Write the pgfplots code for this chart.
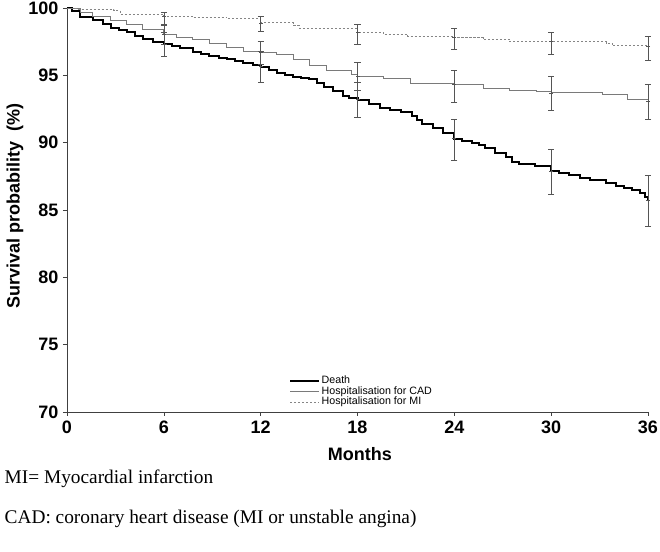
\documentclass[border=0pt]{standalone}
\usepackage{pgfplots}
\usepackage{pgfplotstable}
\pgfplotsset{compat=1.18}
\usepackage{fontspec}
\setmainfont{Liberation Sans}
\newfontfamily\footfont{Liberation Serif}
\usetikzlibrary{plotmarks}
\definecolor{cadgray}{HTML}{7A7A7A}
\definecolor{migray}{HTML}{858585}
\definecolor{errgray}{HTML}{555555}

\pgfplotstableread{
x y
0 100
0.3 99.8
0.8 99.3
1.6 99.1
2.2 98.8
2.7 98.55
3.2 98.4
3.7 98.2
4.2 97.95
4.7 97.7
5.3 97.5
6 97.3
6.5 97.15
7 97.0
7.8 96.7
8.3 96.55
8.8 96.4
9.4 96.3
9.9 96.2
10.4 96.05
10.9 95.9
11.5 95.8
12 95.65
12.5 95.4
13 95.2
13.5 95.05
14 94.9
14.5 94.8
15 94.7
15.5 94.4
15.9 94.1
16.5 93.8
17.1 93.5
17.5 93.35
18 93.2
18.7 92.9
19.4 92.6
20 92.45
20.7 92.25
21.4 92.0
21.7 91.7
22 91.4
22.7 91.1
23.3 90.75
24 90.3
24.5 90.15
25.1 90.0
25.5 89.8
25.9 89.6
26.5 89.25
27.2 88.9
27.6 88.6
28 88.4
29 88.25
30 87.9
30.5 87.75
31.1 87.6
31.8 87.4
32.4 87.25
33.4 87.0
34 86.8
34.5 86.6
35 86.45
35.5 86.25
35.8 86.0
36 85.75
}\deathtable

\pgfplotstableread{
x y
0 100
0.8 99.7
1.6 99.4
2.7 99.1
3.7 98.8
4.7 98.4
6 98.05
6.8 97.8
7.8 97.7
8.8 97.4
9.9 97.05
10.9 96.8
12 96.7
13 96.55
14 96.2
15 95.7
16.1 95.4
17.6 95.05
18 94.9
19.6 94.8
21.3 94.4
22.7 94.4
24 94.3
25.8 94.05
27.4 93.9
29.1 93.8
30 93.7
31 93.7
33.2 93.6
34.7 93.2
36 93.1
}\cadtable

\pgfplotstableread{
x y
0 100
0.6 99.9
2.9 99.8
3.3 99.55
6 99.4
7.8 99.3
9.9 99.2
12 98.9
14 98.7
14.4 98.5
18 98.2
19.6 98.05
21.1 97.9
24 97.8
25.8 97.7
27.4 97.5
30 97.5
33.4 97.4
33.8 97.2
36 97.15
}\mitable

\pgfplotstableread{
x y ep em
6 97.3 0.9 0.9
12 95.65 1.15 1.15
18 93.2 1.3 1.3
24 90.3 1.4 1.6
30 87.9 1.6 1.7
36 85.75 1.85 1.95
}\deathci

\pgfplotstableread{
x y ep em
6 98.05 0.65 0.75
12 96.7 0.8 0.9
18 94.9 1.1 1.05
24 94.3 1.1 1.3
30 93.7 1.2 1.3
36 93.1 1.25 1.4
}\cadci

\pgfplotstableread{
x y ep em
6 99.4 0.3 0.6
12 98.9 0.5 0.6
18 98.2 0.6 0.9
24 97.8 0.7 0.9
30 97.5 0.7 0.95
36 97.15 0.75 1.05
}\mici

\pgfplotsset{cistyle/.style={forget plot, only marks, mark=-, mark size=1.5pt,
  mark options={errgray, line width=0.4pt},
  error bars/.cd, y dir=both, y explicit,
  error mark=|, error mark options={errgray, mark size=2.3pt, line width=0.5pt},
  error bar style={errgray, line width=0.5pt}}}

\begin{document}
\begin{tikzpicture}
\useasboundingbox (0,0) rectangle (495pt,414pt);
\begin{axis}[
  at={(50.25pt,105pt)}, anchor=south west,
  scale only axis, width=435.75pt, height=303pt,
  xmin=0, xmax=36, ymin=70, ymax=100,
  axis lines*=left,
  axis line style={line width=0.6pt, black!75},
  xtick={0,6,...,36}, ytick={70,75,...,100},
  tick align=outside, major tick length=3pt,
  tick style={line width=0.5pt, black!75},
  /pgf/number format/assume math mode=true,
  ticklabel style={font=\fontsize{13.5}{14}\selectfont\bfseries},
  xlabel={Months}, ylabel={Survival probability\ \ (\%)},
  label style={font=\fontsize{13.5}{14}\selectfont\bfseries},
  xlabel style={at={(axis description cs:0.504,-0.104)}, anchor=center},
  ylabel style={at={(axis description cs:-0.0895,0.51)}, anchor=center},
  legend style={at={(axis cs:13.5,73.0)}, anchor=north west, draw=none, fill=none,
    font=\fontsize{8}{9}\selectfont, row sep=-1.3pt, nodes={inner sep=1pt}},
  legend cell align=left,
  legend image code/.code={\draw[#1] (0cm,0cm) -- (0.77cm,0cm);},
  clip=false,
]
\addplot[const plot, black, line width=1.5pt] table[x=x,y=y] {\deathtable};
\addlegendentry{Death}
\addplot[const plot, cadgray, line width=0.6pt] table[x=x,y=y] {\cadtable};
\addlegendentry{Hospitalisation for CAD}
\addplot[const plot, migray, line width=0.6pt, dash pattern=on 1.6pt off 1.4pt] table[x=x,y=y] {\mitable};
\addlegendentry{Hospitalisation for MI}

\addplot[cistyle] table[x=x, y=y, y error plus=ep, y error minus=em] {\deathci};
\addplot[cistyle] table[x=x, y=y, y error plus=ep, y error minus=em] {\cadci};
\addplot[cistyle] table[x=x, y=y, y error plus=ep, y error minus=em] {\mici};
\end{axis}
\node[anchor=west, font=\footfont\fontsize{14.5}{16}\selectfont] at (0pt,55pt) {MI= Myocardial infarction};
\node[anchor=west, font=\footfont\fontsize{14.5}{16}\selectfont] at (0pt,24.5pt) {CAD: coronary heart disease (MI or unstable angina)};
\end{tikzpicture}
\end{document}
